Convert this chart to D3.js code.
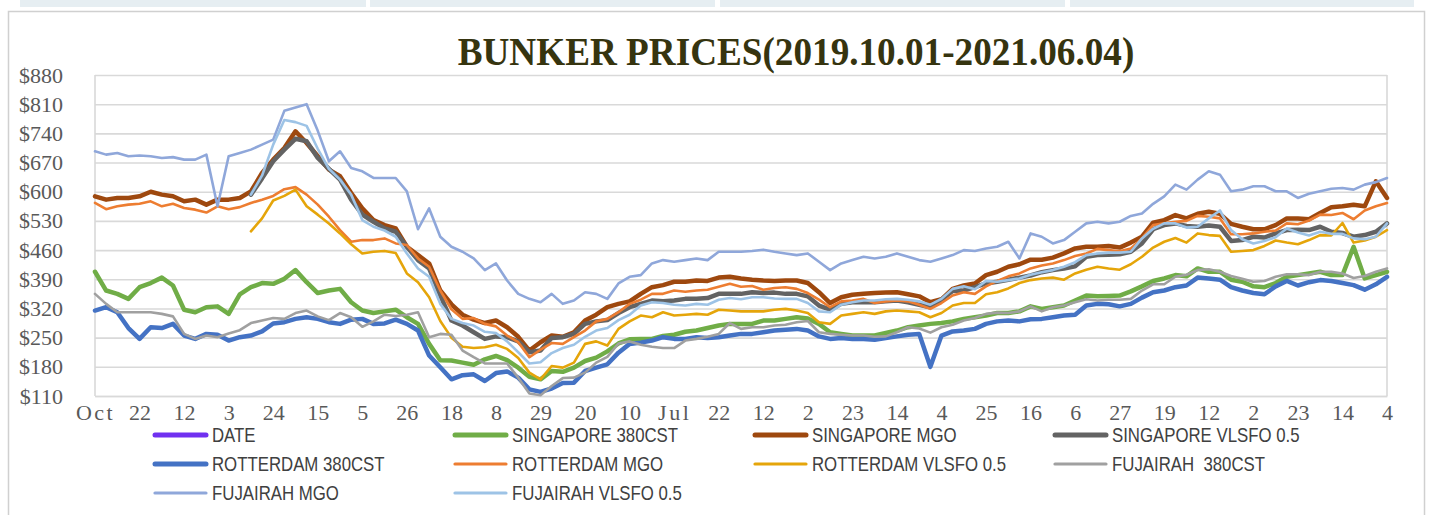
<!DOCTYPE html>
<html><head><meta charset="utf-8">
<script src="https://cdn.jsdelivr.net/npm/d3@7/dist/d3.min.js"></script>
<style>
html,body{margin:0;padding:0;background:#fff;}
svg{display:block;}
</style></head><body>
<svg id="chart" width="1434" height="515"></svg>
<script>
// ---------- DATA ----------
const title = "BUNKER PRICES(2019.10.01-2021.06.04)";
const xLabels = ["Oct","22","12","3","24","15","5","26","18","8","29","20","10","Jul","22","12","2","23","14","4","25","16","6","27","19","12","2","23","14","4"];
const yTicks = [110,180,250,320,390,460,530,600,670,740,810,880];
const N = null;

const sg380 = [408,363,355,343,371,381,394,375,317,311,323,325,307,354,371,381,379,391,412,383,357,363,367,335,315,309,313,317,299,283,235,196,195,190,185,
198,206,196,178,156,150,170,168,178,194,202,217,236,246,247,247,254,257,264,267,273,279,283,283,283,291,291,295,299,296,283,263,259,255,255,255,261,267,275,279,283,285,
289,295,299,303,309,309,313,325,319,323,327,339,351,349,350,351,361,373,386,392,400,397,416,408,408,389,384,373,371,381,396,400,404,408,400,400,468,392,400,408];

const sgMGO = [589,581,585,585,589,600,593,589,577,581,569,581,581,585,601,645,677,705,745,717,685,653,637,597,560,532,520,512,468,448,428,363,330,305,293,
285,291,275,252,219,239,255,252,263,291,305,323,331,337,355,371,376,384,384,387,386,394,396,392,389,387,386,387,387,381,359,333,347,353,355,357,358,359,354,349,335,342,
367,375,380,400,408,420,426,437,437,442,452,464,468,468,470,466,478,492,526,532,544,536,547,552,547,523,516,510,510,520,536,536,534,549,563,565,569,565,625,585];

const sgVLSFO = [N,N,N,N,N,N,N,N,N,N,N,N,N,N,593,632,673,701,727,721,681,655,629,581,545,528,512,504,468,436,416,351,291,279,263,
247,253,251,241,215,219,249,251,259,283,289,292,309,323,331,339,337,339,343,343,345,355,355,355,359,357,358,355,355,349,327,317,331,335,335,335,337,339,335,329,323,341,
362,363,371,380,384,389,394,399,407,412,416,421,444,448,449,450,456,476,510,520,524,518,516,519,516,482,484,492,490,500,508,509,508,516,504,501,492,496,504,524];

const rt380 = [315,323,311,273,247,275,273,283,255,247,259,257,243,251,255,265,284,287,295,299,295,287,283,293,295,283,284,293,283,267,207,179,150,160,162,
146,165,169,154,126,120,128,141,142,170,178,186,214,235,238,243,251,247,247,251,249,251,255,259,259,263,267,269,271,267,253,247,249,247,247,245,249,253,257,259,180,255,
265,267,271,283,289,291,289,294,295,299,303,305,327,331,330,325,331,346,359,363,371,375,394,392,389,371,363,357,354,373,386,375,383,388,386,381,376,365,378,396];

const rtMGO = [573,558,565,569,571,577,565,571,561,557,550,565,558,563,573,581,590,606,611,593,569,540,508,480,484,484,488,476,472,440,420,363,318,295,297,
283,277,255,239,203,221,237,235,251,267,289,295,311,331,341,355,355,363,360,363,365,372,379,372,374,365,369,371,367,357,341,323,337,339,343,333,337,339,337,329,319,333,
351,359,355,373,386,397,404,416,423,428,436,446,452,463,460,457,464,488,520,524,528,530,542,540,536,498,498,500,504,507,524,522,531,545,544,549,534,555,565,573];

const rtVLSFO = [N,N,N,N,N,N,N,N,N,N,N,N,N,N,505,536,579,590,605,565,545,524,500,474,452,456,458,453,404,383,347,290,250,228,225,
227,233,223,201,166,150,182,178,190,235,241,231,271,289,303,299,311,303,305,307,305,317,315,313,313,313,317,319,315,309,287,283,303,307,311,307,313,315,313,311,299,309,
327,333,333,354,359,368,381,388,392,394,389,404,413,420,416,413,426,444,466,480,489,478,500,496,494,456,458,460,470,483,478,474,484,496,495,525,478,483,492,508];

const fuj380 = [355,331,311,311,311,311,307,301,259,247,255,251,260,268,285,291,297,295,309,315,301,292,309,299,276,289,305,302,305,311,251,259,257,219,203,
188,188,188,154,116,112,134,153,154,166,190,204,236,241,233,228,225,225,243,247,252,259,285,271,275,275,279,281,287,290,263,259,257,255,255,252,253,263,275,272,262,275,
281,291,297,307,310,309,313,325,313,323,327,335,342,339,341,341,343,363,378,378,396,401,412,414,408,398,391,384,386,396,402,402,400,408,408,404,393,398,408,416];

const fujMGO = [697,689,693,685,687,685,681,683,677,677,689,565,685,693,701,713,725,794,802,810,746,673,697,657,649,633,633,633,601,510,560,492,468,456,440,
412,428,387,355,343,335,355,331,339,359,355,343,380,396,400,428,436,432,436,440,436,456,456,456,458,461,456,452,448,452,432,412,428,436,444,440,444,452,444,436,432,440,
448,460,458,464,468,480,440,500,492,476,484,504,524,528,524,528,542,548,571,589,617,605,629,649,641,601,605,613,613,601,601,585,595,601,607,609,605,617,623,633];

const fujVLSFO = [N,N,N,N,N,N,N,N,N,N,N,N,N,N,593,639,713,772,767,758,703,655,629,593,532,516,507,492,452,416,396,331,295,285,279,
264,261,241,215,188,191,213,225,233,252,267,273,292,305,327,335,333,329,327,331,329,341,345,342,347,347,344,343,343,333,313,311,329,335,339,339,342,343,341,337,329,343,
367,373,366,386,384,388,392,401,407,412,420,431,448,452,454,454,456,488,511,524,524,514,516,536,555,508,486,476,482,491,512,502,495,504,499,499,488,486,492,524];

const seriesNames = ["DATE","SINGAPORE 380CST","SINGAPORE MGO","SINGAPORE VLSFO 0.5","ROTTERDAM 380CST","ROTTERDAM MGO","ROTTERDAM VLSFO 0.5","FUJAIRAH  380CST","FUJAIRAH MGO","FUJAIRAH VLSFO 0.5"];
const seriesValues = [null, sg380, sgMGO, sgVLSFO, rt380, rtMGO, rtVLSFO, fuj380, fujMGO, fujVLSFO];
const seriesColors = ["#7030F0","#70AD47","#9E480E","#636363","#4472C4","#ED7D31","#E5A50A","#A0A0A0","#8FA7DA","#9DC3E6"];
const seriesWidths = [5,4.5,4.5,4.5,4.5,2.6,2.6,2.6,2.6,2.6];

// ---------- LAYOUT ----------
const svg = d3.select("#chart");
const L = 95, R = 1387, T = 75, B = 396;

// top strip
[[20,366],[370,715],[720,1065],[1070,1414]].forEach(s=>{
  svg.append("rect").attr("x",s[0]).attr("y",0).attr("width",s[1]-s[0]).attr("height",7).attr("fill","#E6EEF2");
});
// outer chart border
svg.append("rect").attr("x",8.5).attr("y",11.5).attr("width",1416).attr("height",520)
  .attr("fill","#fff").attr("stroke","#D0D0D0").attr("stroke-width",1.5);

// title (condensed bold serif)
svg.append("text").attr("transform","translate(796,65) scale(0.93,1)").attr("text-anchor","middle")
  .attr("font-family","'Liberation Serif','Times New Roman',serif").attr("font-weight","bold")
  .attr("font-size",40).attr("fill","#36340F").text(title);

const x = d3.scaleLinear().domain([0, sg380.length-1]).range([L, R]);
const y = d3.scaleLinear().domain([110, 880]).range([B, T]);

// gridlines
const grid = svg.append("g").attr("transform",`translate(${L},0)`)
  .call(d3.axisLeft(y).tickValues(yTicks).tickSize(-(R-L)).tickFormat(""));
grid.select(".domain").remove();
grid.selectAll("line").attr("stroke","#D9D9D9").attr("stroke-width",1.6);

// plot border sides
svg.append("line").attr("x1",L).attr("x2",L).attr("y1",T).attr("y2",B).attr("stroke","#D9D9D9").attr("stroke-width",1.6);
svg.append("line").attr("x1",R).attr("x2",R).attr("y1",T).attr("y2",B).attr("stroke","#D9D9D9").attr("stroke-width",1.6);

// y axis labels
const ya = svg.append("g").attr("transform",`translate(${L},0)`)
  .call(d3.axisLeft(y).tickValues(yTicks).tickSize(0).tickPadding(32).tickFormat(d=>"$"+d));
ya.select(".domain").remove();
ya.selectAll("text").attr("font-family","'Liberation Serif','Times New Roman',serif").attr("font-size",22).attr("fill","#595959");

// x axis labels
const labelIdx = xLabels.map((d,i)=>i*4);
const xa = svg.append("g").attr("transform",`translate(0,${B})`)
  .call(d3.axisBottom(x).tickValues(labelIdx).tickSize(0).tickPadding(8).tickFormat((d,i)=>xLabels[i]));
xa.select(".domain").attr("stroke","#D9D9D9").attr("stroke-width",1.6);
xa.selectAll("text").attr("font-family","'Liberation Serif','Times New Roman',serif").attr("font-size",22).attr("fill","#595959")
  .attr("letter-spacing",(d,i)=>isNaN(+xLabels[i]) ? 2.5 : 0);

// lines
const line = d3.line().defined(d=>d!=null).x((d,i)=>x(i)).y(d=>y(d));
seriesValues.forEach((vals,k)=>{
  if(!vals) return;
  svg.append("path").datum(vals).attr("d",line)
    .attr("fill","none").attr("stroke",seriesColors[k]).attr("stroke-width",seriesWidths[k])
    .attr("stroke-linejoin","round").attr("stroke-linecap","round");
});

// legend
const lg = svg.append("g");
seriesNames.forEach((name,k)=>{
  const col = k%4, row = Math.floor(k/4);
  const x0 = 153 + col*300, yy = 435 + row*29;
  lg.append("line").attr("x1",x0+2).attr("x2",x0+53).attr("y1",yy).attr("y2",yy)
    .attr("stroke",seriesColors[k]).attr("stroke-width",k<5?5:3.2).attr("stroke-linecap","round");
  lg.append("text").attr("transform",`translate(${x0+59},${yy+7}) scale(0.84,1.04)`)
    .style("white-space","pre")
    .attr("font-family","'Liberation Sans',Arial,sans-serif").attr("font-size",20)
    .attr("fill","#404040").text(name);
});
</script>
</body></html>
